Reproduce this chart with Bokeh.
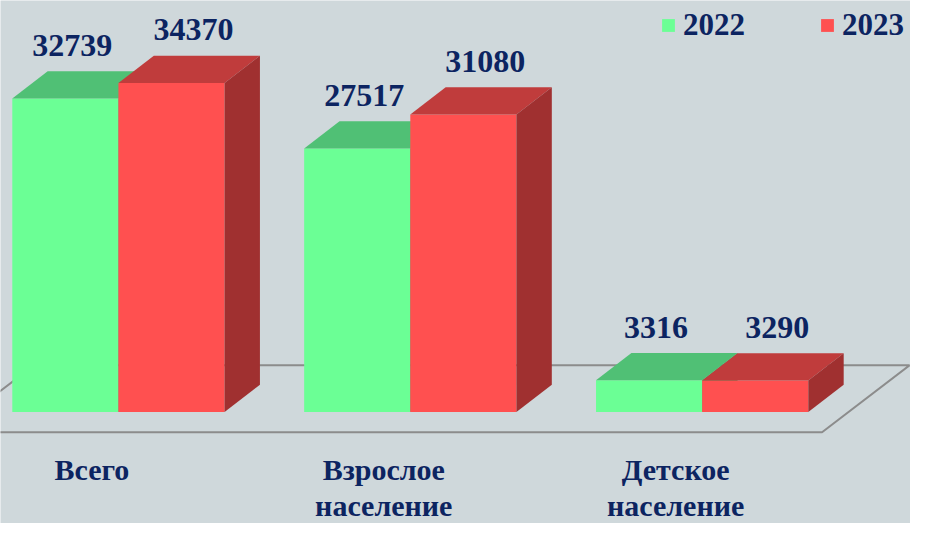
from bokeh.plotting import figure
from bokeh.models import Range1d, Legend, LegendItem
from bokeh.core.properties import value
from bokeh.embed import file_html
from bokeh.resources import INLINE

# ---- data ----
categories = ["Всего", "Взрослое\nнаселение", "Детское\nнаселение"]
series_names = ["2022", "2023"]
values_2022 = [32739, 27517, 3316]
values_2023 = [34370, 31080, 3290]

# ---- layout / style constants ----
W, H = 910, 523
REF_W, REF_H = 926, 539
PX = 0.009865          # reference pixels per value unit
BASE_Y = 424           # reference pixel row of bar bases
GROUP0, GROUP_STEP = 120, 297
BAR_W = 108
DX = 36
DY = 28 / PX

BG = "#cfd8db"
TXT = "#0c2461"
FONT_NAME = "Liberation Serif"
FONT = value(FONT_NAME)
front_cols = ["#6bff95", "#ff5050"]
top_cols = ["#50c075", "#c03c3c"]
side_cols = ["#45a865", "#a03030"]


def vy(ref_y):
    return (BASE_Y - ref_y) / PX


p = figure(width=W, height=H, output_backend="svg", toolbar_location=None,
           x_range=Range1d(0, REF_W), y_range=Range1d(vy(REF_H), vy(0)),
           min_border=0, x_axis_type=None, y_axis_type=None)
p.grid.visible = False
p.outline_line_color = None
p.background_fill_color = BG
p.border_fill_color = BG

# floor (drawn first, behind bars)
f_front, f_back = vy(445), vy(376)
floor_x = [-55, 836, 836 + 89, -55 + 89]
floor_y = [f_front, f_front, f_back, f_back]
p.patch(floor_x, floor_y, fill_alpha=0, line_color="#8c8c8c", line_width=2)

centers = [GROUP0 + i * GROUP_STEP for i in range(len(categories))]
front_renderers = []
for s, vals in enumerate([values_2022, values_2023]):
    xc = [c + (s - 0.5) * BAR_W for c in centers]
    lefts = [x - BAR_W / 2 for x in xc]
    rights = [x + BAR_W / 2 for x in xc]
    r = p.vbar(x=xc, top=vals, bottom=0, width=BAR_W,
               fill_color=front_cols[s], line_color=None)
    front_renderers.append(r)
    p.patches(xs=[[l, rr, rr + DX, l + DX] for l, rr in zip(lefts, rights)],
              ys=[[v, v, v + DY, v + DY] for v in vals],
              fill_color=top_cols[s], line_color=None)
    p.patches(xs=[[rr, rr + DX, rr + DX, rr] for rr in rights],
              ys=[[0, DY, v + DY, v] for v in vals],
              fill_color=side_cols[s], line_color=None)
    p.text(x=xc, y=[v + DY for v in vals], text=[str(v) for v in vals],
           x_offset=[7, 22][s], y_offset=-26,
           text_align="center", text_baseline="middle",
           text_font=FONT, text_font_style="bold", text_font_size="32px",
           text_color=TXT)

# category labels
p.text(x=[c - 27 for c in centers], y=[vy(466)] * len(centers), text=categories,
       text_align="center", text_baseline="top", text_line_height=1.1,
       text_font=FONT, text_font_style="bold", text_font_size="30px",
       text_color=TXT)

legend = Legend(items=[LegendItem(label=n, renderers=[r])
                       for n, r in zip(series_names, front_renderers)],
                orientation="horizontal", location=(660, 480),
                glyph_width=16, glyph_height=16, label_standoff=7, spacing=74,
                padding=0, margin=0, border_line_color=None,
                background_fill_alpha=0,
                label_text_font=FONT_NAME, label_text_font_style="bold",
                label_text_font_size="31px", label_text_color=TXT)
p.add_layout(legend)

open("out.html", "w").write(file_html(p, INLINE))
